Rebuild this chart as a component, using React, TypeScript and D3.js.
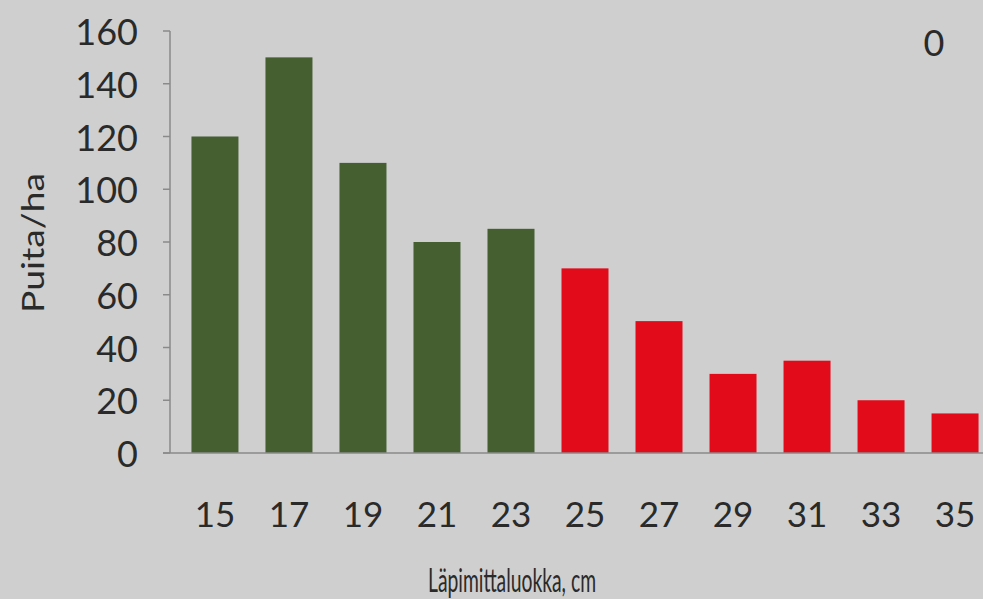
import React from "react";
import * as d3 from "d3";

const categories = ["15", "17", "19", "21", "23", "25", "27", "29", "31", "33", "35"];
const values = [120, 150, 110, 80, 85, 70, 50, 30, 35, 20, 15];
const groups = ["g", "g", "g", "g", "g", "r", "r", "r", "r", "r", "r"];
const yTicks = [0, 20, 40, 60, 80, 100, 120, 140, 160];
const yTitle = "Puita/ha";
const xTitle = "Läpimittaluokka, cm";
const cornerLabel = "0";

const W = 983;
const H = 599;
const FONT = "Lato, 'DejaVu Sans', sans-serif";
const colors: Record<string, string> = { g: "#455f30", r: "#e10b1a" };

export default function App() {
  const axisX = 170;
  const y = d3.scaleLinear().domain([0, 160]).range([453, 31]);
  const x = d3
    .scaleBand<string>()
    .domain(categories)
    .range([axisX, 1000])
    .paddingInner(0.365)
    .paddingOuter(0.29);

  return (
    <svg
      width={W}
      height={H}
      style={{ position: "fixed", left: 0, top: 0, display: "block" }}
      fontFamily={FONT}
    >
      <rect x={0} y={0} width={W} height={H} fill="#cfcfcf" />
      {values.map((v, i) => (
        <rect
          key={categories[i]}
          x={x(categories[i])}
          y={y(v)}
          width={x.bandwidth()}
          height={y(0) - y(v)}
          fill={colors[groups[i]]}
        />
      ))}
      <line x1={axisX} x2={axisX} y1={y(160)} y2={y(0)} stroke="#8a8a8a" strokeWidth={1.5} />
      {yTicks.map((t) => (
        <g key={t}>
          <line x1={axisX - 7} x2={axisX} y1={y(t)} y2={y(t)} stroke="#8a8a8a" strokeWidth={1.5} />
          <text
            x={138}
            y={y(t)}
            textAnchor="end"
            dominantBaseline="central"
            fontSize={36}
            fill="#2a2a2a"
          >
            {t}
          </text>
        </g>
      ))}
      <line x1={axisX - 7} x2={W} y1={y(0)} y2={y(0)} stroke="#8a8a8a" strokeWidth={1.5} />
      {categories.map((c) => (
        <text
          key={c}
          x={(x(c) as number) + x.bandwidth() / 2}
          y={513}
          textAnchor="middle"
          dominantBaseline="central"
          fontSize={35}
          fill="#2a2a2a"
        >
          {c}
        </text>
      ))}
      <text
        x={512}
        y={579}
        textAnchor="middle"
        dominantBaseline="central"
        fontSize={33}
        textLength={168}
        lengthAdjust="spacingAndGlyphs"
        fill="#2a2a2a"
      >
        {xTitle}
      </text>
      <text
        transform={`translate(32,243) rotate(-90)`}
        textAnchor="middle"
        dominantBaseline="central"
        fontSize={30}
        textLength={140}
        lengthAdjust="spacingAndGlyphs"
        fill="#2a2a2a"
      >
        {yTitle}
      </text>
      <text
        x={934}
        y={42}
        textAnchor="middle"
        dominantBaseline="central"
        fontSize={36}
        fill="#2a2a2a"
      >
        {cornerLabel}
      </text>
    </svg>
  );
}
